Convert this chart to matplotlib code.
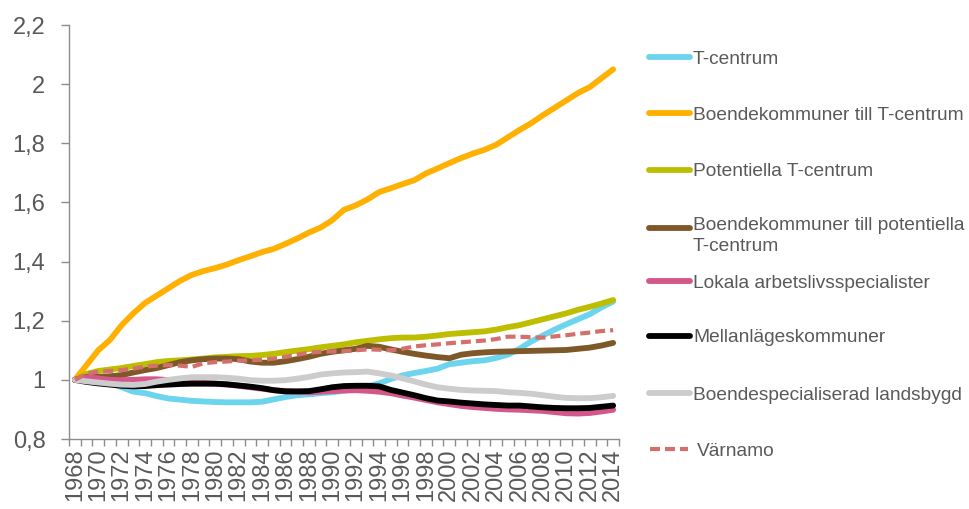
import matplotlib
matplotlib.use("Agg")
import matplotlib.pyplot as plt
from matplotlib.lines import Line2D
import numpy as np

plt.rcParams['font.family'] = ['Liberation Sans', 'DejaVu Sans']

years = list(range(1968, 2015))

t_centrum = [1.0, 0.997, 0.993, 0.99, 0.975, 0.96, 0.955, 0.945, 0.937, 0.933,
             0.929, 0.927, 0.925, 0.924, 0.924, 0.924, 0.926, 0.934, 0.942, 0.948,
             0.951, 0.955, 0.958, 0.963, 0.97, 0.978, 0.988, 1.003, 1.015, 1.023,
             1.03, 1.038, 1.053, 1.058, 1.063, 1.066, 1.074, 1.085, 1.105, 1.13,
             1.15, 1.17, 1.188, 1.205, 1.222, 1.245, 1.265]

boende_t = [1.0, 1.05, 1.10, 1.135, 1.185, 1.225, 1.26, 1.285, 1.31, 1.335,
            1.355, 1.368, 1.378, 1.39, 1.405, 1.418, 1.432, 1.443, 1.46, 1.478,
            1.498, 1.515, 1.54, 1.575, 1.59, 1.61, 1.635, 1.648, 1.662, 1.675,
            1.698, 1.715, 1.733, 1.75, 1.765, 1.778, 1.795, 1.82, 1.845, 1.868,
            1.895, 1.92, 1.945, 1.97, 1.99, 2.02, 2.05]

potentiella = [1.0, 1.02, 1.03, 1.035, 1.04, 1.047, 1.053, 1.06, 1.064, 1.066,
               1.069, 1.072, 1.076, 1.078, 1.08, 1.081, 1.084, 1.088, 1.094, 1.099,
               1.104, 1.11, 1.115, 1.12, 1.127, 1.132, 1.137, 1.141, 1.143, 1.143,
               1.146, 1.15, 1.155, 1.158, 1.161, 1.164, 1.17, 1.178, 1.185, 1.195,
               1.205, 1.215, 1.225, 1.237, 1.247, 1.258, 1.27]

boende_pot = [1.0, 1.01, 1.01, 1.012, 1.016, 1.025, 1.033, 1.04, 1.05, 1.06,
              1.066, 1.07, 1.072, 1.072, 1.07, 1.062, 1.058, 1.058, 1.063, 1.07,
              1.078, 1.088, 1.095, 1.1, 1.105, 1.115, 1.112, 1.103, 1.095, 1.088,
              1.082, 1.077, 1.073, 1.085, 1.09, 1.093, 1.095, 1.096, 1.097, 1.098,
              1.099, 1.1, 1.101, 1.105, 1.109, 1.116, 1.125]

lokala = [1.0, 1.008, 1.005, 1.0, 0.999, 1.0, 1.002, 1.002, 0.999, 0.996,
          0.994, 0.99, 0.987, 0.984, 0.98, 0.975, 0.97, 0.965, 0.962, 0.96,
          0.958, 0.96, 0.962, 0.964, 0.965, 0.963, 0.96, 0.955, 0.947, 0.94,
          0.932, 0.924, 0.918, 0.912, 0.908, 0.905, 0.902, 0.9, 0.899, 0.897,
          0.895, 0.891, 0.887, 0.886, 0.888, 0.893, 0.899]

mellan = [1.0, 0.993, 0.988, 0.984, 0.98, 0.978, 0.979, 0.982, 0.984, 0.986,
          0.987, 0.987, 0.987, 0.985, 0.981, 0.977, 0.972, 0.965, 0.961, 0.961,
          0.962, 0.968, 0.975, 0.979, 0.98, 0.98, 0.978, 0.966, 0.957, 0.948,
          0.938, 0.93, 0.927, 0.923, 0.92, 0.917, 0.915, 0.913, 0.913, 0.91,
          0.907, 0.905, 0.904, 0.904, 0.905, 0.909, 0.913]

landsbygd = [1.0, 0.995, 0.991, 0.987, 0.984, 0.983, 0.986, 0.994, 1.0, 1.005,
             1.009, 1.009, 1.009, 1.007, 1.004, 0.999, 0.997, 0.997, 0.999, 1.004,
             1.01, 1.018, 1.022, 1.025, 1.026, 1.028, 1.022, 1.015, 1.005, 0.995,
             0.984, 0.975, 0.97, 0.966, 0.964, 0.963, 0.962, 0.958, 0.956, 0.953,
             0.948, 0.943, 0.939, 0.938, 0.938, 0.941, 0.946]

varnamo = [1.0, 1.02, 1.028, 1.03, 1.033, 1.038, 1.045, 1.048, 1.05, 1.048,
           1.044, 1.056, 1.06, 1.062, 1.065, 1.066, 1.068, 1.072, 1.078, 1.085,
           1.092, 1.095, 1.096, 1.097, 1.1, 1.103, 1.102, 1.10, 1.105, 1.113,
           1.117, 1.12, 1.124, 1.127, 1.13, 1.133, 1.138, 1.146, 1.146, 1.144,
           1.143, 1.147, 1.151, 1.156, 1.16, 1.165, 1.168]

labels = ["T-centrum", "Boendekommuner till T-centrum", "Potentiella T-centrum",
          "Boendekommuner till potentiella\nT-centrum", "Lokala arbetslivsspecialister",
          "Mellanlägeskommuner", "Boendespecialiserad landsbygd", "Värnamo"]
series = [t_centrum, boende_t, potentiella, boende_pot, lokala, mellan, landsbygd, varnamo]
colors = ["#6DD4EE", "#FFB000", "#BDBE00", "#7E5828", "#D5568A", "#000000", "#CCCCCC", "#D4706B"]
styles = ["-", "-", "-", "-", "-", "-", "-", "--"]

W, H = 970, 509
fig = plt.figure(figsize=(W / 100, H / 100), dpi=100)
ax = fig.add_axes([69 / W, 1 - 439 / H, (619 - 69) / W, (439 - 25) / H])

LW = 4.2
DLW = 3.0
DASH = (0, (2.4, 1.2))

x = np.arange(len(years))
for s, c, ls in zip(series, colors, styles):
    if ls == "--":
        ax.plot(x, s, color=c, lw=DLW, ls=DASH, dash_capstyle='butt', zorder=3)
    else:
        ax.plot(x, s, color=c, lw=LW, solid_capstyle='round', solid_joinstyle='round', zorder=2)

ax.set_xlim(-0.5, len(years) - 0.5)
ax.set_ylim(0.8, 2.2)

yt = np.round(np.arange(0.8, 2.21, 0.2), 1)
ax.set_yticks(yt)
ax.set_yticklabels([("%g" % v).replace(".", ",") for v in yt])

ax.set_xticks(x[::2])
ax.set_xticklabels([str(y) for y in years[::2]], rotation=90, va='top', ha='center')
ax.set_xticks(np.arange(-0.5, len(years), 1.0), minor=True)

grey = "#595959"
axcol = "#8C8C8C"
ax.tick_params(axis='x', which='major', length=0, pad=7, labelsize=17, labelcolor=grey)
ax.tick_params(axis='x', which='minor', length=5, width=1.0, color=axcol, direction='out')
ax.tick_params(axis='y', which='major', length=6, width=1.0, color=axcol, pad=11,
               labelsize=17, labelcolor=grey)
for sp in ['top', 'right']:
    ax.spines[sp].set_visible(False)
for sp in ['left', 'bottom']:
    ax.spines[sp].set_color(axcol)
    ax.spines[sp].set_linewidth(1.0)

# legend (manual, to mimic spreadsheet layout)
LFS = 13.8
leg_y = [57, 113, 170, 228, 281, 336, 393, 449]
for lab, c, ls, yy in zip(labels, colors, styles, leg_y):
    yf = 1 - yy / H
    if ls == "--":
        fig.add_artist(Line2D([650 / W, 688 / W], [yf, yf], color=c, lw=DLW,
                              ls=DASH, transform=fig.transFigure))
        fig.text(697 / W, yf, lab, fontsize=LFS, color=grey, va='center_baseline', ha='left')
    else:
        fig.add_artist(Line2D([649 / W, 690 / W], [yf, yf], color=c, lw=LW,
                              solid_capstyle='round', transform=fig.transFigure))
        if "\n" in lab:
            fig.text(693 / W, 1 - (yy - 11) / H, lab, fontsize=LFS, color=grey, va='top',
                     ha='left', linespacing=1.3)
        else:
            fig.text(693 / W, yf, lab, fontsize=LFS, color=grey, va='center_baseline', ha='left')

fig.savefig("out.png", dpi=100)
